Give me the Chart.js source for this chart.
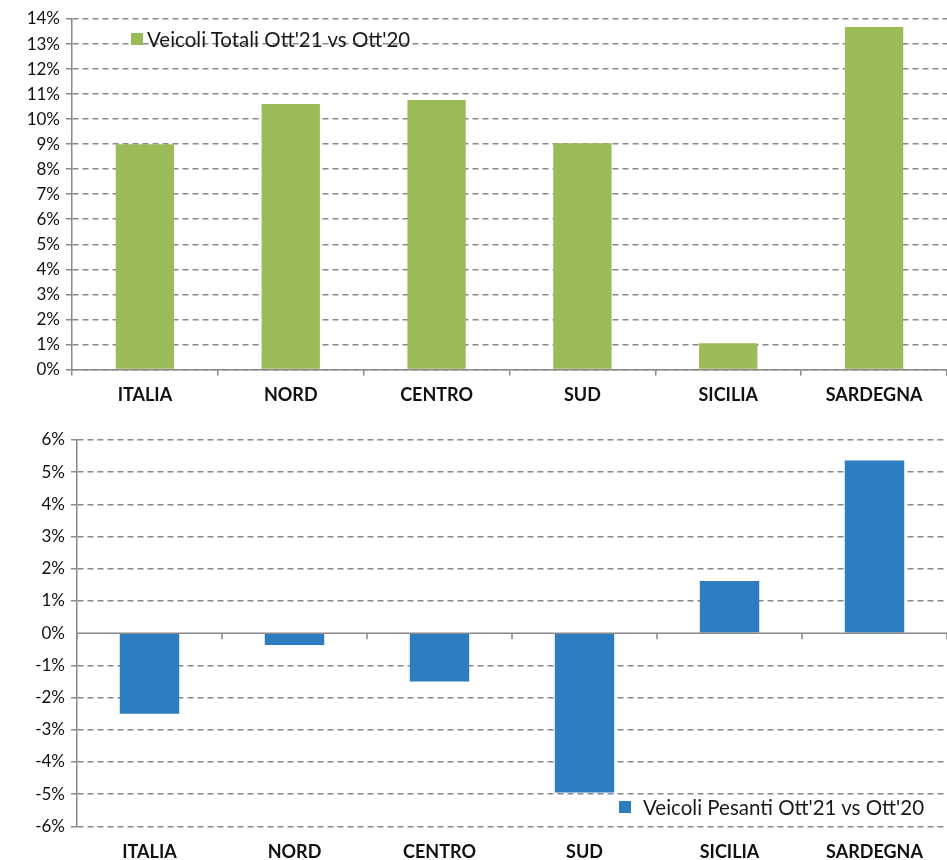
<!DOCTYPE html>
<html>
<head>
<meta charset="utf-8">
<script src="https://cdn.jsdelivr.net/npm/chart.js@4/dist/chart.umd.min.js"></script>
<style>
  body { margin: 0; background: #fff; font-family: Lato, sans-serif; overflow: hidden; }
  .box { position: absolute; left: 0; width: 947px; }
  .legend { position: absolute; font-size: 20.5px; color: #1a1a1a; display: flex; align-items: center; white-space: nowrap; }
  .legend span.sw { display: inline-block; width: 12px; height: 12px; margin-right: 4px; }
</style>
</head>
<body>
<div class="box" style="top:0;height:415px"><canvas id="totali"></canvas></div>
<div class="box" style="top:420px;height:460px"><canvas id="pesanti"></canvas></div>
<div class="legend" style="left:131px;top:27px"><span class="sw" style="background:#9BBB59"></span>Veicoli Totali Ott'21 vs Ott'20</div>
<div class="legend" style="left:619px;top:795px"><span class="sw" style="background:#2F7DC1;margin-right:12px"></span>Veicoli Pesanti Ott'21 vs Ott'20</div>
<script>
// dati
const regioni = ["ITALIA", "NORD", "CENTRO", "SUD", "SICILIA", "SARDEGNA"];
const totali = [9.0, 10.6, 10.76, 9.04, 1.04, 13.68];   // Veicoli Totali Ott'21 vs Ott'20
const pesanti = [-2.5, -0.37, -1.5, -4.95, 1.62, 5.36]; // Veicoli Pesanti Ott'21 vs Ott'20

const GRIGIO = "#888888";
const FONT = "Lato";

// linea dello zero + tacche per il grafico in basso
const lineaZero = {
  id: "lineaZero",
  afterDatasetsDraw(chart) {
    const x = chart.scales.x, y = chart.scales.y;
    const y0 = y.getPixelForValue(0);
    const c = chart.ctx;
    c.save();
    c.strokeStyle = GRIGIO;
    c.lineWidth = 1.5;
    c.beginPath();
    c.moveTo(x.left, y0);
    c.lineTo(x.right, y0);
    const step = (x.right - x.left) / regioni.length;
    for (let i = 0; i <= regioni.length; i++) {
      const px = Math.round(x.left + i * step);
      c.moveTo(px, y0);
      c.lineTo(px, y0 + 6);
    }
    c.stroke();
    c.restore();
  }
};

function opzioni(min, max, larghezzaY, zeroAsse) {
  return {
    responsive: true,
    maintainAspectRatio: false,
    animation: false,
    layout: { padding: { top: zeroAsse ? 19 : 20, right: 0, left: 0, bottom: zeroAsse ? 0 : 8 } },
    plugins: { legend: { display: false }, tooltip: { enabled: false } },
    scales: {
      x: {
        offset: true,
        grid: {
          display: zeroAsse,
          offset: true,
          drawOnChartArea: false,
          drawTicks: true,
          tickLength: 6,
          color: GRIGIO,
          lineWidth: 1.5
        },
        border: { display: zeroAsse, color: GRIGIO, width: 1.5 },
        ticks: {
          color: "#111",
          padding: 9,
          font: { family: FONT, size: 18, weight: "bold" }
        }
      },
      y: {
        min: min,
        max: max,
        afterFit(scale) { scale.width = larghezzaY; },
        ticks: {
          stepSize: 1,
          color: "#111",
          padding: 6,
          font: { family: FONT, size: 17 },
          callback: v => v + "%"
        },
        grid: {
          color: ctx => (!zeroAsse && ctx.tick && ctx.tick.value === 0) ? "rgba(0,0,0,0)" : GRIGIO,
          lineWidth: 1.5,
          tickLength: 6,
          drawTicks: true
        },
        border: { display: true, color: GRIGIO, width: 1.5, dash: [6, 4] }
      }
    }
  };
}

new Chart(document.getElementById("totali"), {
  type: "bar",
  data: {
    labels: regioni,
    datasets: [{
      label: "Veicoli Totali Ott'21 vs Ott'20",
      data: totali,
      backgroundColor: "#9BBB59",
      categoryPercentage: 1,
      barPercentage: 0.4
    }]
  },
  options: opzioni(0, 14, 72, true)
});

new Chart(document.getElementById("pesanti"), {
  type: "bar",
  data: {
    labels: regioni,
    datasets: [{
      label: "Veicoli Pesanti Ott'21 vs Ott'20",
      data: pesanti,
      backgroundColor: "#2F7DC1",
      categoryPercentage: 1,
      barPercentage: 0.41
    }]
  },
  options: opzioni(-6, 6, 77, false),
  plugins: [lineaZero]
});
</script>
</body>
</html>
